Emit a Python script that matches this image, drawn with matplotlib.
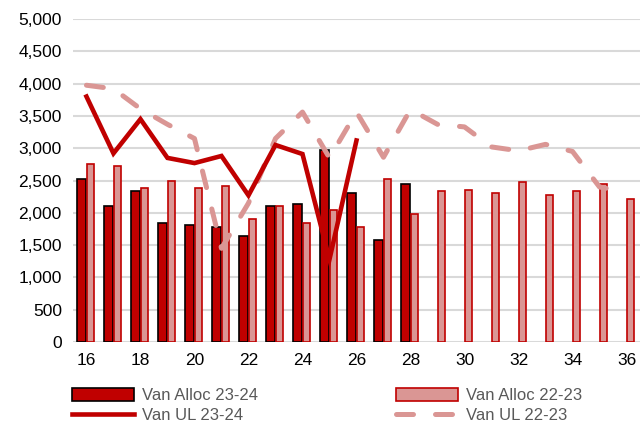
import numpy as np
import matplotlib
matplotlib.use("Agg")
import matplotlib.pyplot as plt
from matplotlib.ticker import FuncFormatter

plt.rcParams['font.family'] = ['Liberation Sans', 'DejaVu Sans']

# weeks on the x axis
weeks = list(range(16, 37))

# van allocations (bars)
alloc_2324 = [2530, 2100, 2330, 1840, 1810, 1775, 1635, 2100, 2130, 2970, 2300, 1580, 2440]
alloc_2223 = [2760, 2730, 2380, 2500, 2390, 2410, 1900, 2100, 1840, 2040, 1780, 2530, 1980,
              2330, 2355, 2300, 2470, 2270, 2330, 2440, 2210]

# van UL (lines)
ul_2324 = [3800, 2920, 3450, 2850, 2770, 2880, 2270, 3050, 2910, 1280, 3120]
ul_2223 = [3975, 3920, 3610, 3370, 3150, 1450, 2150, 3150, 3560, 2850, 3560, 2860, 3600,
           3370, 3330, 3020, 2960, 3060, 2950, 2400, 2320]

dark_red = "#C00000"
pink = "#DA9694"

fig = plt.figure(figsize=(6.4, 4.23), dpi=100)
ax = fig.add_axes([0.114, 0.1915, 0.886, 0.7635])

x = np.arange(len(weeks))
b1 = ax.bar(x[:len(alloc_2324)] - 0.175, alloc_2324, width=0.33, color=dark_red,
            edgecolor="black", linewidth=1.2, zorder=3)
b2 = ax.bar(x + 0.155, alloc_2223, width=0.27, color=pink,
            edgecolor=dark_red, linewidth=1.2, zorder=3)
l1, = ax.plot(x[:len(ul_2324)], ul_2324, color=dark_red, lw=3.3, zorder=5,
              solid_joinstyle="miter")
l2, = ax.plot(x, ul_2223, color=pink, lw=3.6, dashes=(3.4, 4.4), zorder=4,
              dash_capstyle="round")

ax.set_xlim(-0.5, len(weeks) - 0.5)
ax.set_ylim(0, 5000)
ax.set_yticks(np.arange(0, 5001, 500))
ax.yaxis.set_major_formatter(FuncFormatter(lambda v, p: f"{int(v):,}"))
ax.set_xticks(x[::2])
ax.set_xticklabels([str(wk) for wk in weeks[::2]])
ax.grid(axis="y", color="#d9d9d9", lw=1.5, zorder=0)
ax.set_axisbelow(True)
for s in ax.spines.values():
    s.set_visible(False)
ax.tick_params(length=0, labelsize=12.5, colors="black", pad=8)

fig.legend([b1, l1, b2, l2],
           ["Van Alloc 23-24", "Van UL 23-24", "Van Alloc 22-23", "Van UL 22-23"],
           ncol=2, loc="lower left", bbox_to_anchor=(0.089, -0.036),
           frameon=False, fontsize=12, labelcolor="#595959",
           handlelength=3.7, handleheight=0.75, columnspacing=8.3,
           labelspacing=0.3, handletextpad=0.5)

fig.savefig("out.png", dpi=100)
